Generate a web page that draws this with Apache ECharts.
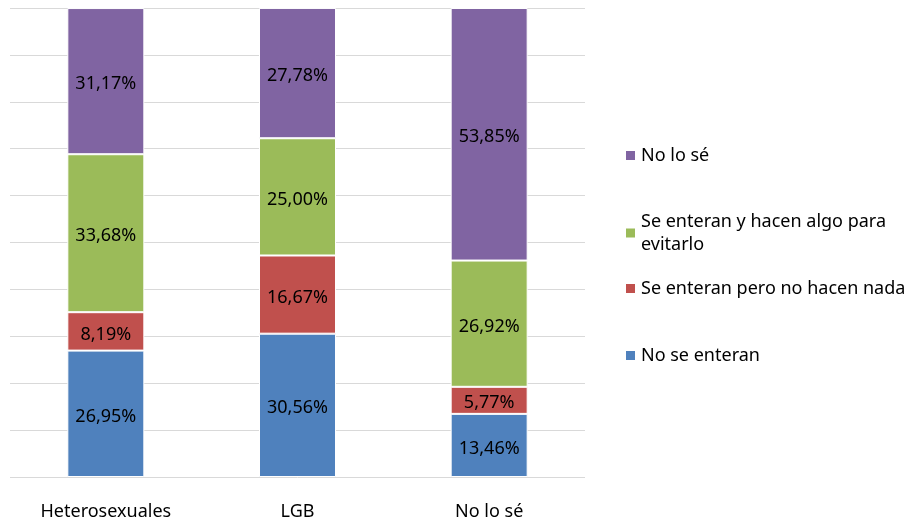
<!DOCTYPE html>
<html>
<head>
<meta charset="utf-8">
<script src="https://cdn.jsdelivr.net/npm/echarts@6/dist/echarts.min.js"></script>
<style>
  html, body { margin: 0; padding: 0; background: #fff; }
  #chart { width: 917px; height: 524px; }
</style>
</head>
<body>
<div id="chart"></div>
<script>
// categorías del eje x
const categorias = ['Heterosexuales', 'LGB', 'No lo sé'];
// porcentajes por serie (de abajo hacia arriba)
const noSeEnteran = [26.95, 30.56, 13.46];
const noHacenNada = [8.19, 16.67, 5.77];
const hacenAlgo = [33.68, 25.00, 26.92];
const noLoSe = [31.17, 27.78, 53.85];

const font = 'Noto Sans';
const fs = 18;
const chart = echarts.init(document.getElementById('chart'));

function serie(name, data, color) {
    return {
        name: name,
        type: 'bar',
        stack: 'total',
        barWidth: 77,
        data: data,
        itemStyle: { color: color, borderColor: '#fff', borderWidth: 1 },
        label: {
            show: true,
            position: 'inside',
            offset: [0, 3],
            color: '#000',
            fontFamily: font,
            fontSize: fs,
            formatter: (p) => p.value.toFixed(2).replace('.', ',') + '%'
        }
    };
}

function leyenda(name, top) {
    return {
        data: [name],
        left: 619,
        top: top,
        orient: 'vertical',
        itemWidth: 11,
        itemHeight: 11,
        icon: 'rect',
        textStyle: { fontFamily: font, fontSize: fs, color: '#000', lineHeight: 23 },
        formatter: (n) => n === 'Se enteran y hacen algo para evitarlo'
            ? 'Se enteran y hacen algo para\nevitarlo' : n
    };
}

chart.setOption({
    animation: false,
    grid: { left: 10, right: 332, top: 8, bottom: 47 },
    legend: [
        leyenda('No lo sé', 139),
        leyenda('Se enteran y hacen algo para evitarlo', 205),
        leyenda('Se enteran pero no hacen nada', 272),
        leyenda('No se enteran', 339)
    ],
    xAxis: {
        type: 'category',
        data: categorias,
        axisLine: { show: false },
        axisTick: { show: false },
        axisLabel: { fontFamily: font, fontSize: fs, color: '#000', margin: 26 }
    },
    yAxis: {
        type: 'value',
        min: 0,
        max: 100,
        interval: 10,
        axisLabel: { show: false },
        axisLine: { show: false },
        axisTick: { show: false },
        splitLine: { lineStyle: { color: '#d9d9d9', width: 1 } }
    },
    series: [
        serie('No se enteran', noSeEnteran, '#4F81BD'),
        serie('Se enteran pero no hacen nada', noHacenNada, '#C0504D'),
        serie('Se enteran y hacen algo para evitarlo', hacenAlgo, '#9BBB59'),
        serie('No lo sé', noLoSe, '#8064A2')
    ]
});
</script>
</body>
</html>
